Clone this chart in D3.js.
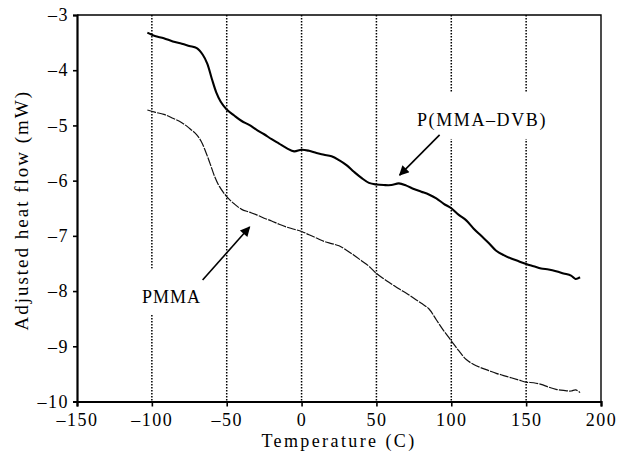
<!DOCTYPE html>
<html>
<head>
<meta charset="utf-8">
<script src="https://cdn.jsdelivr.net/npm/d3@7"></script>
<style>
  body { margin: 0; background: #fff; }
  text { font-family: "Liberation Serif", "Times New Roman", serif; fill: #000; }
</style>
</head>
<body>
<div id="chart"></div>
<script>
// temperature (C) and adjusted heat flow (mW)
const dvbTemp = [-103, -98, -92, -86, -80, -75, -70, -66, -63, -60, -57, -54, -50, -45, -40, -35, -30, -25, -20, -15, -10, -5, 0, 5, 10, 15, 20, 25, 30, 35, 40, 45, 50, 55, 60, 65, 70, 75, 80, 85, 90, 95, 100, 105, 110, 115, 120, 125, 130, 135, 140, 145, 150, 155, 160, 165, 170, 175, 180, 183, 186]
const dvbFlow = [-3.32, -3.38, -3.42, -3.48, -3.52, -3.56, -3.60, -3.72, -3.88, -4.15, -4.40, -4.57, -4.71, -4.82, -4.92, -4.99, -5.08, -5.16, -5.25, -5.33, -5.41, -5.47, -5.44, -5.46, -5.50, -5.53, -5.56, -5.63, -5.72, -5.84, -5.95, -6.04, -6.07, -6.08, -6.08, -6.05, -6.09, -6.15, -6.20, -6.25, -6.32, -6.42, -6.50, -6.62, -6.72, -6.87, -7.00, -7.13, -7.27, -7.35, -7.41, -7.46, -7.51, -7.55, -7.59, -7.61, -7.64, -7.68, -7.72, -7.78, -7.75]

const pmmaTemp = [-103, -98, -92, -86, -80, -75, -70, -67, -64, -61, -58, -55, -50, -45, -40, -35, -30, -25, -20, -15, -10, -5, 0, 5, 10, 15, 20, 25, 30, 35, 40, 45, 50, 55, 60, 65, 70, 75, 80, 85, 90, 95, 100, 105, 110, 115, 120, 125, 130, 135, 140, 145, 150, 155, 160, 165, 170, 175, 180, 183, 186]
const pmmaFlow = [-4.72, -4.76, -4.80, -4.87, -4.95, -5.05, -5.17, -5.29, -5.48, -5.70, -5.93, -6.10, -6.29, -6.42, -6.52, -6.57, -6.62, -6.68, -6.73, -6.79, -6.84, -6.88, -6.92, -6.98, -7.04, -7.10, -7.14, -7.18, -7.26, -7.35, -7.45, -7.55, -7.68, -7.78, -7.87, -7.96, -8.04, -8.13, -8.22, -8.32, -8.52, -8.72, -8.90, -9.08, -9.24, -9.33, -9.39, -9.44, -9.49, -9.53, -9.57, -9.61, -9.65, -9.66, -9.69, -9.74, -9.78, -9.80, -9.81, -9.79, -9.84]

const xTicks = [-150, -100, -50, 0, 50, 100, 150, 200]
const yTicks = [-3, -4, -5, -6, -7, -8, -9, -10]
const gridTemps = [-100, -50, 0, 50, 100, 150]

// labels with arrows, in data units: label position, arrow from, arrow to
const notes = [
  { text: "P(MMA\u2013DVB)", x: 120.5, y: -5.01, from: [92.2, -5.17], to: [65.5, -5.90] },
  { text: "PMMA", x: -86.8, y: -8.21, from: [-66.1, -7.80], to: [-34.7, -6.84] }
]

function drawChart() {
  const width = 623
  const height = 460
  const margin = { top: 15, right: 22, bottom: 58.5, left: 77 }

  const svg = d3.select("#chart")
    .append("svg")
      .attr("width", width)
      .attr("height", height)

  const x = d3.scaleLinear()
      .domain([-150, 200])
      .range([margin.left, width - margin.right])

  const y = d3.scaleLinear()
      .domain([-10, -3])
      .range([height - margin.bottom, margin.top])

  // dotted verticals
  svg.append("g")
    .selectAll("line")
    .data(gridTemps)
    .join("line")
      .attr("x1", d => x(d))
      .attr("x2", d => x(d))
      .attr("y1", y(-3))
      .attr("y2", y(-10))
      .attr("stroke", "#000")
      .attr("stroke-width", 1.5)
      .attr("stroke-dasharray", "1.6,1.4")

  // top and right edges of the box
  svg.append("path")
    .attr("d", `M${x(-150)},${y(-3)}H${x(200)}V${y(-10)}`)
    .attr("fill", "none")
    .attr("stroke", "#000")
    .attr("stroke-width", 1.4)

  // curves
  const line = d3.line()
      .x(d => x(d[0]))
      .y(d => y(d[1]))
      .curve(d3.curveCatmullRom)

  svg.append("path")
    .datum(d3.zip(pmmaTemp, pmmaFlow))
    .attr("d", line)
    .attr("fill", "none")
    .attr("stroke", "#111")
    .attr("stroke-width", 1.2)
    .attr("stroke-dasharray", "9,1.2")

  svg.append("path")
    .datum(d3.zip(dvbTemp, dvbFlow))
    .attr("d", line)
    .attr("fill", "none")
    .attr("stroke", "#000")
    .attr("stroke-width", 2.1)

  // axes
  const xAxis = svg.append("g")
      .attr("transform", `translate(0,${y(-10)})`)
      .call(d3.axisBottom(x).tickValues(xTicks).tickSize(5).tickPadding(7)
        .tickFormat(d => d < 0 ? "\u2013" + Math.abs(d) : d))
  const yAxis = svg.append("g")
      .attr("transform", `translate(${x(-150)},0)`)
      .call(d3.axisLeft(y).tickValues(yTicks).tickSize(4).tickPadding(4)
        .tickFormat(d => "\u2013" + Math.abs(d)))

  for (const ax of [xAxis, yAxis]) {
    ax.attr("font-family", null).attr("font-size", null)
    ax.select(".domain").attr("stroke-width", 2.2)
    ax.selectAll(".tick line").attr("stroke-width", 1.6)
    ax.selectAll(".tick text")
      .attr("font-size", 18)
      .attr("letter-spacing", 1.5)
  }

  svg.append("text")
    .attr("x", x(25))
    .attr("y", 447)
    .attr("text-anchor", "middle")
    .attr("font-size", 18)
    .attr("letter-spacing", 2.4)
    .text("Temperature (C)")

  svg.append("text")
    .attr("transform", `translate(28,${y(-6.5) + 2}) rotate(-90)`)
    .attr("text-anchor", "middle")
    .attr("font-size", 19)
    .attr("letter-spacing", 2)
    .text("Adjusted heat flow (mW)")

  // annotations
  svg.append("defs").append("marker")
      .attr("id", "head")
      .attr("viewBox", "0 0 10 10")
      .attr("refX", 9)
      .attr("refY", 5)
      .attr("markerWidth", 14)
      .attr("markerHeight", 10)
      .attr("markerUnits", "userSpaceOnUse")
      .attr("orient", "auto")
    .append("path")
      .attr("d", "M0,0L10,5L0,10Z")
      .attr("fill", "#000")

  const noteGroup = svg.append("g")
  notes.forEach(n => {
    const label = noteGroup.append("text")
      .attr("x", x(n.x))
      .attr("y", y(n.y))
      .attr("text-anchor", "middle")
      .attr("font-size", 18)
      .attr("letter-spacing", n.text.length > 5 ? 1.6 : 1)
      .text(n.text)
    const box = label.node().getBBox()
    noteGroup.insert("rect", "text")
      .attr("x", box.x - 4)
      .attr("y", box.y - 18)
      .attr("width", box.width + 8)
      .attr("height", box.height + 26)
      .attr("fill", "#fff")
    noteGroup.append("line")
      .attr("x1", x(n.from[0]))
      .attr("y1", y(n.from[1]))
      .attr("x2", x(n.to[0]))
      .attr("y2", y(n.to[1]))
      .attr("stroke", "#000")
      .attr("stroke-width", 1.6)
      .attr("marker-end", "url(#head)")
  })
}

window.onload = function () {
  drawChart()
}
</script>
</body>
</html>
